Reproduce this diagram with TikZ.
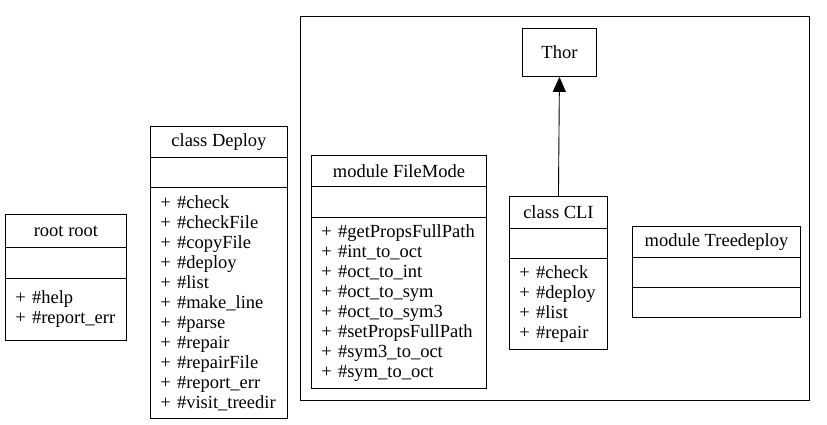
\documentclass[tikz,border=0pt]{standalone}
\usepackage{fontspec}
\setmainfont{Liberation Serif}
\usetikzlibrary{arrows.meta}
\tikzset{
  box/.style={draw, line width=0.9pt, anchor=north west, inner sep=0pt,
    font=\fontsize{18.5}{20}\selectfont},
  ttl/.style={box, align=center},
  meth/.style={box, align=left, inner xsep=10pt},
  inherit/.style={line width=0.9pt, -{Triangle[length=15pt,width=13pt]}}
}
\begin{document}
\begin{tikzpicture}[x=1pt,y=-1pt]
\useasboundingbox (0,0) rectangle (827,424);
% cluster
\node[box, minimum width=509pt, minimum height=384pt] (cluster) at (300,16) {};
% root
\node[ttl, minimum width=121pt, minimum height=33pt] (rootT) at (5,214) {root root};
\node[box, minimum width=121pt, minimum height=31pt] (rootA) at (5,247) {};
\node[meth, text width=101pt, minimum height=62pt] (rootM) at (5,278) {+ \#help\\+ \#report\_err};
% Deploy
\node[ttl, minimum width=137pt, minimum height=31pt] (depT) at (150,126) {class Deploy};
\node[box, minimum width=137pt, minimum height=30pt] (depA) at (150,157) {};
\node[meth, text width=117pt, minimum height=231pt] (depM) at (150,187) {+ \#check\\+ \#checkFile\\+ \#copyFile\\+ \#deploy\\+ \#list\\+ \#make\_line\\+ \#parse\\+ \#repair\\+ \#repairFile\\+ \#report\_err\\+ \#visit\_treedir};
% FileMode
\node[ttl, minimum width=175pt, minimum height=31pt] (fmT) at (311,155) {module FileMode};
\node[box, minimum width=175pt, minimum height=31pt] (fmA) at (311,186) {};
\node[meth, text width=155pt, minimum height=171pt] (fmM) at (311,217) {+ \#getPropsFullPath\\+ \#int\_to\_oct\\+ \#oct\_to\_int\\+ \#oct\_to\_sym\\+ \#oct\_to\_sym3\\+ \#setPropsFullPath\\+ \#sym3\_to\_oct\\+ \#sym\_to\_oct};
% Thor
\node[ttl, minimum width=74pt, minimum height=48pt] (thor) at (522,28) {Thor};
% CLI
\node[ttl, minimum width=98pt, minimum height=32pt] (cliT) at (509,196) {class CLI};
\node[box, minimum width=98pt, minimum height=30pt] (cliA) at (509,228) {};
\node[meth, text width=78pt, minimum height=91pt] (cliM) at (509,258) {+ \#check\\+ \#deploy\\+ \#list\\+ \#repair};
% Treedeploy
\node[ttl, minimum width=168pt, minimum height=31pt] (tdT) at (632,226) {module Treedeploy};
\node[box, minimum width=168pt, minimum height=30pt] (tdA) at (632,257) {};
\node[box, minimum width=168pt, minimum height=30pt] (tdM) at (632,287) {};
% inheritance
\begin{scope}[y=1pt]
\draw[inherit] (cliT.north) -- (thor.south);
\end{scope}
\end{tikzpicture}
\end{document}
